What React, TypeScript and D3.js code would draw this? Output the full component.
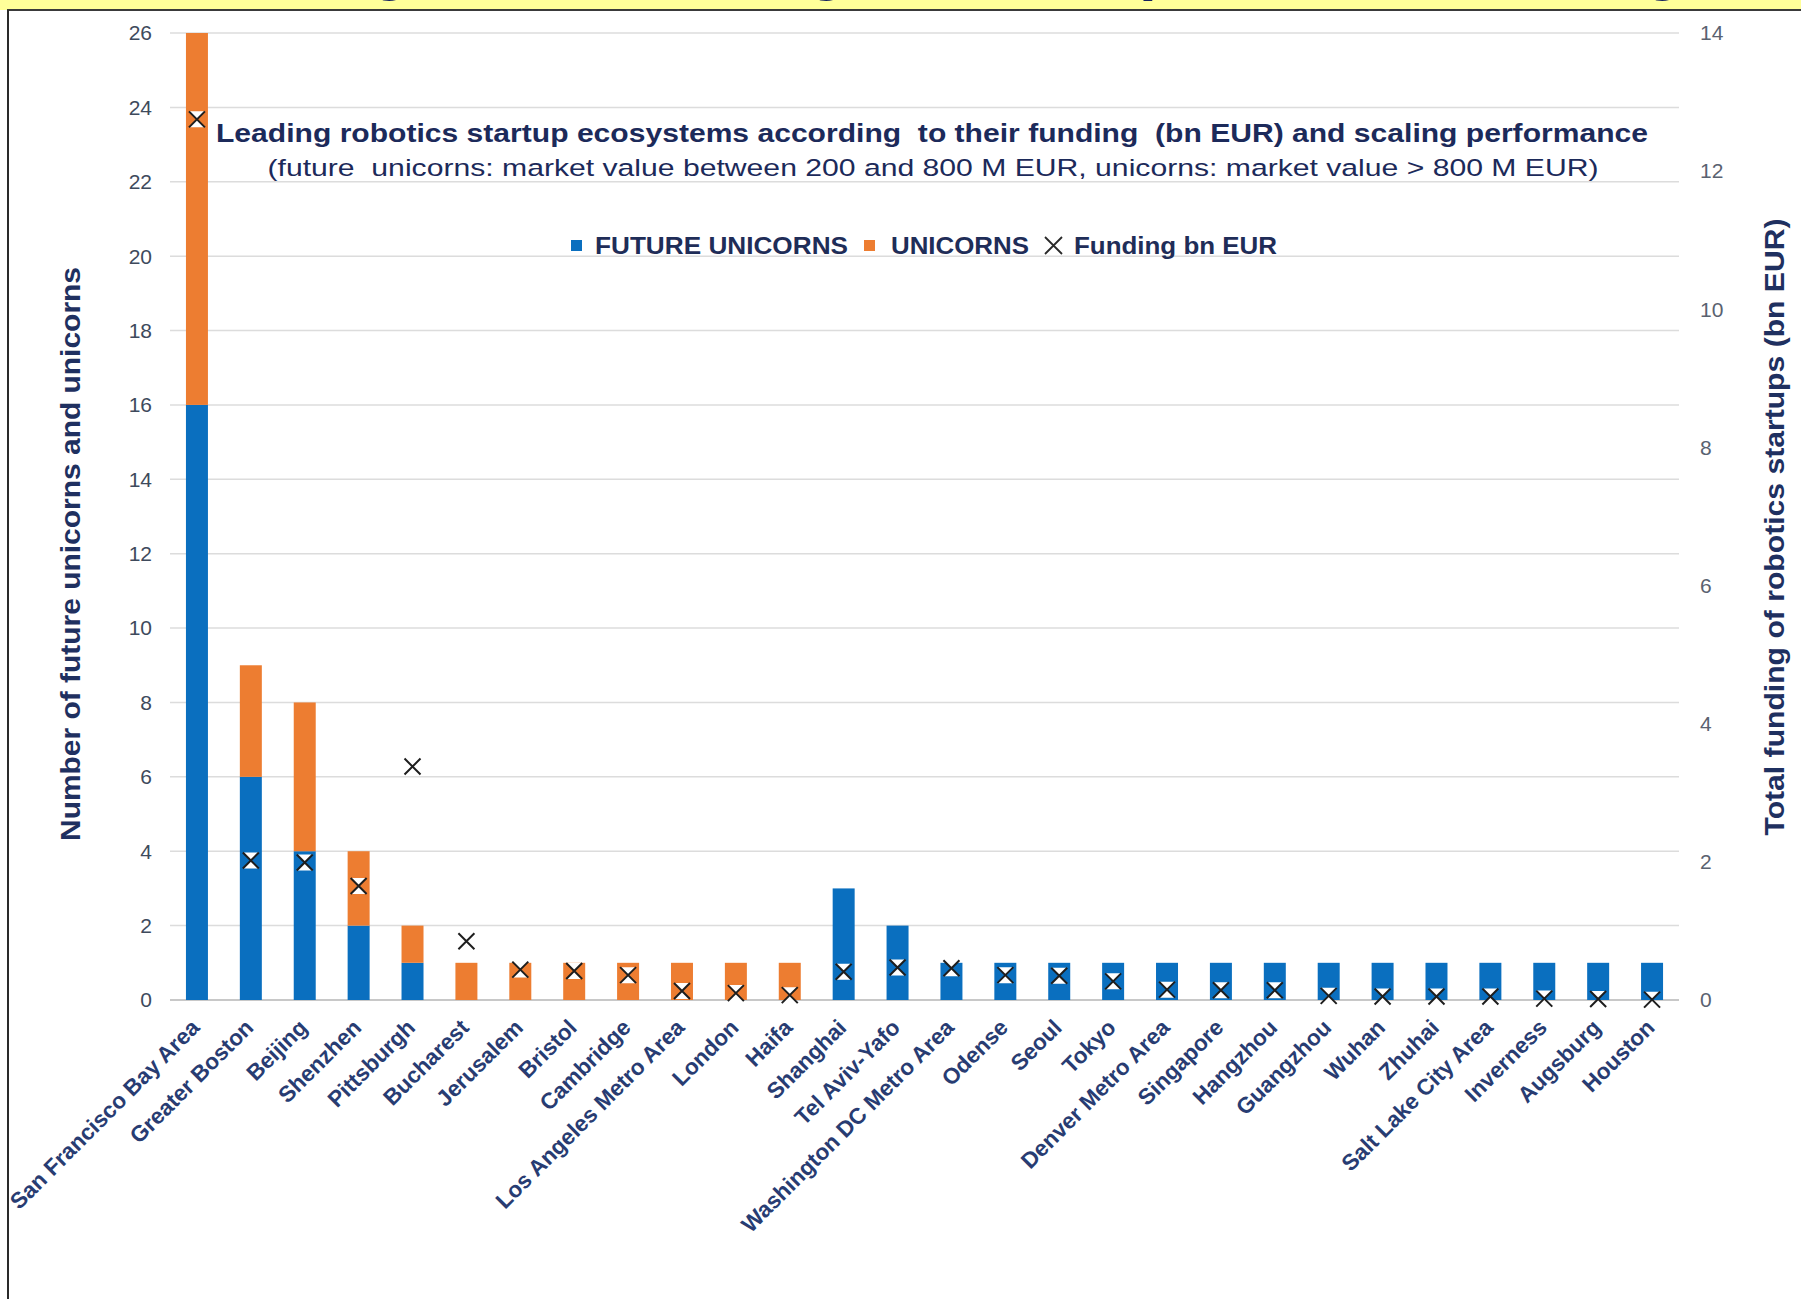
import React from 'react';
import * as d3 from 'd3';

const categories = [
  'San Francisco Bay Area', 'Greater Boston', 'Beijing', 'Shenzhen', 'Pittsburgh', 'Bucharest',
  'Jerusalem', 'Bristol', 'Cambridge', 'Los Angeles Metro Area', 'London', 'Haifa', 'Shanghai',
  'Tel Aviv-Yafo', 'Washington DC Metro Area', 'Odense', 'Seoul', 'Tokyo', 'Denver Metro Area',
  'Singapore', 'Hangzhou', 'Guangzhou', 'Wuhan', 'Zhuhai', 'Salt Lake City Area', 'Inverness',
  'Augsburg', 'Houston',
];
const futureUnicorns = [16, 6, 4, 2, 1, 0, 0, 0, 0, 0, 0, 0, 3, 2, 1, 1, 1, 1, 1, 1, 1, 1, 1, 1, 1, 1, 1, 1];
const unicorns = [10, 3, 4, 2, 1, 1, 1, 1, 1, 1, 1, 1, 0, 0, 0, 0, 0, 0, 0, 0, 0, 0, 0, 0, 0, 0, 0, 0];
const fundingBnEur = [
  12.75, 2.02, 1.99, 1.65, 3.38, 0.85, 0.44, 0.42, 0.36, 0.13, 0.1, 0.07, 0.41, 0.47, 0.46, 0.36,
  0.35, 0.27, 0.15, 0.14, 0.14, 0.06, 0.05, 0.05, 0.05, 0.02, 0.015, 0.005,
];
const leftTickValues = [0, 2, 4, 6, 8, 10, 12, 14, 16, 18, 20, 22, 24, 26];
const rightTickValues = [0, 2, 4, 6, 8, 10, 12, 14];

const titleLine1 = 'Leading robotics startup ecosystems according  to their funding  (bn EUR) and scaling performance';
const titleLine2 = '(future  unicorns: market value between 200 and 800 M EUR, unicorns: market value > 800 M EUR)';
const leftAxisTitle = 'Number of future unicorns and unicorns';
const rightAxisTitle = 'Total funding of robotics startups (bn EUR)';
const legendLabels = ['FUTURE UNICORNS', 'UNICORNS', 'Funding bn EUR'];

const BLUE = '#0A6FBF';
const ORANGE = '#ED7D31';
const NAVY = '#1C2A5A';
const FONT = '"Liberation Sans", Arial, Helvetica, sans-serif';

export default function App() {
  const W = 1801;
  const H = 1299;
  const x0 = 170;
  const x1 = 1679;
  const yBase = 1000;
  const yTop = 33;

  const x = d3.scaleBand<string>().domain(categories).range([x0, x1]).paddingInner(0.592).paddingOuter(0.296);
  const yL = d3.scaleLinear().domain([0, 26]).range([yBase, yTop]);
  const yR = d3.scaleLinear().domain([0, 14]).range([yBase, yTop]);

  const rows = categories.map((c, i) => ({ category: c, future: futureUnicorns[i], unicorn: unicorns[i] }));
  const stacked = d3.stack<any>().keys(['future', 'unicorn'])(rows as any);
  const colors = [BLUE, ORANGE];

  const bw = x.bandwidth();
  const ms = 8;

  return (
    <svg
      width={W}
      height={H}
      viewBox={`0 0 ${W} ${H}`}
      style={{ position: 'absolute', left: 0, top: 0, display: 'block', background: '#fff' }}
      fontFamily={FONT}
    >
      <rect x={0} y={0} width={W} height={H} fill="#fff" />
      {/* top yellow band with the cut-off descenders of a title above the crop */}
      <rect x={0} y={0} width={W} height={10} fill="#FFFF99" />
      <g fill="#15215C" fontWeight="bold" fontSize={64}>
        <text x={390} y={-12} textAnchor="middle">g</text>
        <text x={827} y={-12} textAnchor="middle">g</text>
        <text x={1139} y={-12} textAnchor="start">p</text>
        <text x={1663} y={-12} textAnchor="middle">g</text>
      </g>
      <line x1={7} x2={W} y1={10} y2={10} stroke="#3a3a3a" strokeWidth={2} />
      <line x1={8} x2={8} y1={10} y2={H} stroke="#2a2a2a" strokeWidth={2} />

      {/* gridlines */}
      <g>
        {leftTickValues.map((t) => (
          <line
            key={t}
            x1={x0}
            x2={x1}
            y1={yL(t)}
            y2={yL(t)}
            stroke={t === 0 ? '#C8C8C8' : '#DCDCDC'}
            strokeWidth={t === 0 ? 2 : 1.5}
          />
        ))}
      </g>

      {/* left ticks */}
      <g fontSize={21} fill="#3E4A5C" textAnchor="end">
        {leftTickValues.map((t) => (
          <text key={t} x={152} y={yL(t)} dy="0.35em">{t}</text>
        ))}
      </g>
      {/* right ticks */}
      <g fontSize={21} fill="#5A6270" textAnchor="start">
        {rightTickValues.map((t) => (
          <text key={t} x={1700} y={yR(t)} dy="0.35em">{t}</text>
        ))}
      </g>

      {/* axis titles */}
      <text
        transform={`translate(80,554) rotate(-90)`}
        textAnchor="middle"
        fontWeight="bold"
        fontSize={28}
        fill="#1F3060"
        textLength={574}
        lengthAdjust="spacingAndGlyphs"
      >
        {leftAxisTitle}
      </text>
      <text
        transform={`translate(1784,527) rotate(-90)`}
        textAnchor="middle"
        fontWeight="bold"
        fontSize={27}
        fill="#1F3060"
        textLength={617}
        lengthAdjust="spacingAndGlyphs"
      >
        {rightAxisTitle}
      </text>

      {/* bars */}
      {stacked.map((series, si) => (
        <g key={si} fill={colors[si]}>
          {series.map((d: any, i: number) =>
            d[1] - d[0] > 0 ? (
              <rect
                key={i}
                x={x(categories[i])!}
                y={yL(d[1])}
                width={bw}
                height={yL(d[0]) - yL(d[1])}
              />
            ) : null
          )}
        </g>
      ))}

      {/* funding markers */}
      <g>
        {fundingBnEur.map((v, i) => {
          const cx = x(categories[i])! + bw / 2;
          const cy = yR(v);
          return (
            <g key={i} transform={`translate(${cx},${cy})`}>
              <path d={`M${-ms},${-ms}L${ms},${-ms}L${-ms},${ms}L${ms},${ms}Z`} fill="#fff" />
              <path d={`M${-ms},${-ms}L${ms},${ms}M${ms},${-ms}L${-ms},${ms}`} stroke="#1e1e1e" strokeWidth={2} />
            </g>
          );
        })}
      </g>

      {/* category labels */}
      <g fontSize={22.5} fontWeight="bold" fill="#283C72" textAnchor="end">
        {categories.map((c) => {
          const cx = x(c)! + bw / 2;
          return (
            <text key={c} transform={`translate(${cx + 4},${1029}) rotate(-45)`}>{c}</text>
          );
        })}
      </g>

      {/* title */}
      <text
        x={932}
        y={142}
        textAnchor="middle"
        fontWeight="bold"
        fontSize={26}
        fill={NAVY}
        style={{ whiteSpace: 'pre' }}
        textLength={1432}
        lengthAdjust="spacingAndGlyphs"
      >
        {titleLine1}
      </text>
      <text
        x={933}
        y={176}
        textAnchor="middle"
        fontSize={24.5}
        fill={NAVY}
        style={{ whiteSpace: 'pre' }}
        textLength={1331}
        lengthAdjust="spacingAndGlyphs"
      >
        {titleLine2}
      </text>

      {/* legend */}
      <g fontWeight="bold" fontSize={23} fill="#1F2D58">
        <rect x={571} y={240} width={11} height={11} fill={BLUE} />
        <text x={595} y={254} textLength={253} lengthAdjust="spacingAndGlyphs">{legendLabels[0]}</text>
        <rect x={864} y={240} width={11} height={11} fill={ORANGE} />
        <text x={891} y={254} textLength={138} lengthAdjust="spacingAndGlyphs">{legendLabels[1]}</text>
        <path d="M1045,237L1062,254M1062,237L1045,254" stroke="#2a2a2a" strokeWidth={1.8} />
        <text x={1074} y={254} textLength={203} lengthAdjust="spacingAndGlyphs">{legendLabels[2]}</text>
      </g>
    </svg>
  );
}
